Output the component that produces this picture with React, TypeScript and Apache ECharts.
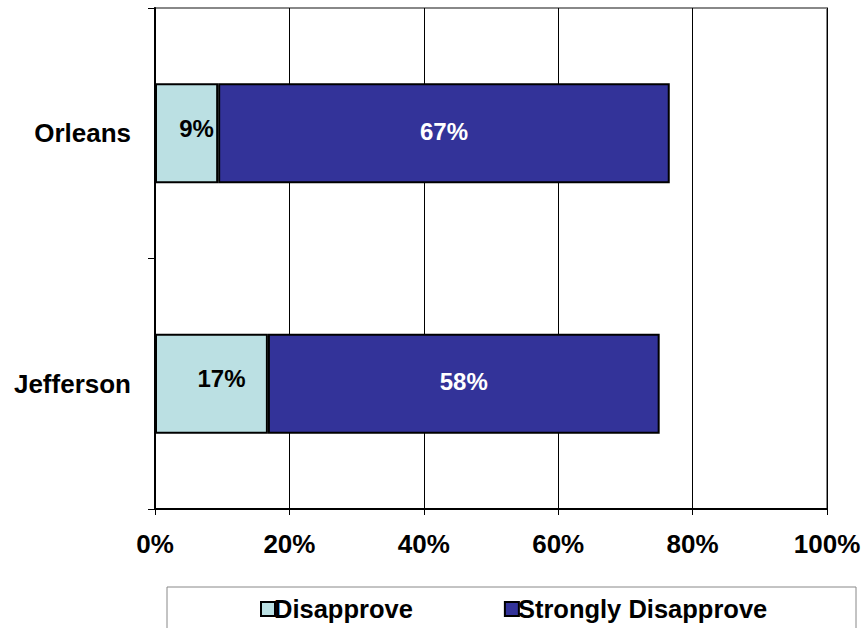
import React, { useEffect, useRef } from "react";
import * as echarts from "echarts";

const categories = ["Jefferson", "Orleans"];
const disapprove = [16.8, 9.4];
const stronglyDisapprove = [58.3, 67.2];
const seriesNames = ["Disapprove", "Strongly Disapprove"];

export default function App() {
  const ref = useRef<HTMLDivElement>(null);
  useEffect(() => {
    const chart = echarts.init(ref.current!, null, { renderer: "svg" });
    const font = "Liberation Sans, Arial, sans-serif";
    chart.setOption({
      animation: false,
      grid: {
        left: 155,
        right: 38,
        top: 8,
        bottom: 119,
        show: true,
        borderColor: "#888",
        borderWidth: 2,
      },
      graphic: [
        {
          type: "rect",
          shape: { x: 167, y: 587, width: 689, height: 60 },
          style: { fill: "#fff", stroke: "#888", lineWidth: 1 },
          z: 0,
        },
      ],
      legend: {
        data: seriesNames,
        left: 255,
        top: 591,
        itemWidth: 14,
        itemHeight: 14,
        itemGap: 91,
        icon: "rect",
        textStyle: { fontFamily: font, fontWeight: "bold", fontSize: 25.5, color: "#000", padding: [0, 0, 0, -6] },
        itemStyle: { borderColor: "#000", borderWidth: 2 },
        z: 10,
      },
      xAxis: {
        type: "value",
        min: 0,
        max: 100,
        interval: 20,
        axisLine: { show: true, lineStyle: { color: "#000", width: 2 } },
        axisTick: { show: true, length: 6, lineStyle: { color: "#000" } },
        axisLabel: {
          formatter: "{value}%",
          fontFamily: font,
          fontWeight: "bold",
          fontSize: 26,
          color: "#000",
          margin: 22,
        },
        splitLine: { show: true, lineStyle: { color: "#000", width: 1 } },
      },
      yAxis: {
        type: "category",
        data: categories,
        axisLine: { show: true, lineStyle: { color: "#000", width: 2 } },
        axisTick: { show: true, length: 7, lineStyle: { color: "#000" } },
        axisLabel: {
          fontFamily: font,
          fontWeight: "bold",
          fontSize: 26,
          color: "#000",
          margin: 24,
        },
      },
      series: [
        {
          name: seriesNames[0],
          type: "bar",
          stack: "total",
          barWidth: "40%",
          data: disapprove,
          itemStyle: { color: "#BBE0E3", borderColor: "#000", borderWidth: 2 },
          label: {
            show: true,
            position: "inside",
            offset: [10, -5],
            formatter: (p: any) => Math.round(p.value) + "%",
            fontFamily: font,
            fontWeight: "bold",
            fontSize: 24,
            color: "#000",
          },
        },
        {
          name: seriesNames[1],
          type: "bar",
          stack: "total",
          barWidth: "40%",
          data: stronglyDisapprove,
          itemStyle: { color: "#333399", borderColor: "#000", borderWidth: 2 },
          label: {
            show: true,
            position: "inside",
            offset: [0, -2],
            formatter: (p: any) => Math.round(p.value) + "%",
            fontFamily: font,
            fontWeight: "bold",
            fontSize: 24,
            color: "#fff",
          },
        },
      ],
    });
    return () => chart.dispose();
  }, []);
  return <div ref={ref} style={{ width: 865, height: 628, position: "absolute", left: 0, top: 0 }} />;
}
